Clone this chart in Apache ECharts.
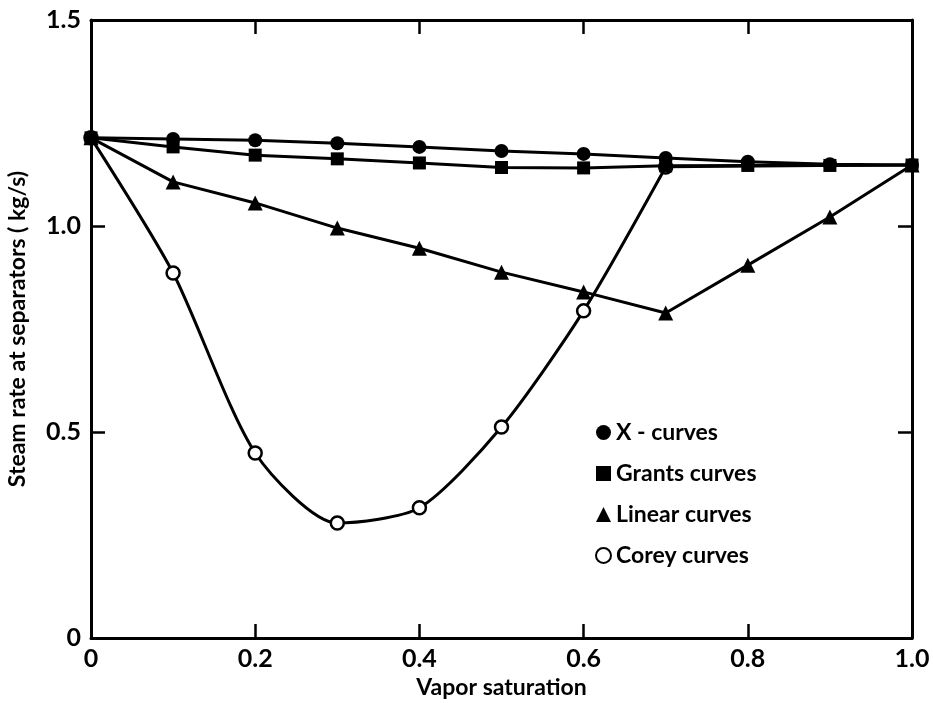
<!DOCTYPE html>
<html>
<head>
<meta charset="utf-8">
<script src="https://cdn.jsdelivr.net/npm/echarts@6/dist/echarts.min.js"></script>
<style>
  html, body { margin: 0; padding: 0; background: #fff; }
  #chart { width: 933px; height: 703px; }
</style>
</head>
<body>
<div id="chart"></div>
<script>
// vapor saturation
const satX = [0, 0.1, 0.2, 0.3, 0.4, 0.5, 0.6, 0.7, 0.8, 0.9, 1.0]
// steam rate (kg/s)
const xCurves = [1.214, 1.211, 1.208, 1.201, 1.192, 1.182, 1.175, 1.165, 1.156, 1.150, 1.148]
const grantsCurves = [1.214, 1.192, 1.172, 1.163, 1.153, 1.142, 1.141, 1.146, 1.147, 1.147, 1.148]
const linearCurves = [1.214, 1.107, 1.056, 0.995, 0.946, 0.888, 0.840, 0.789, 0.905, 1.022, 1.148]
const coreyX = [0, 0.1, 0.2, 0.3, 0.4, 0.5, 0.6, 0.7]
const coreyCurves = [1.214, 0.886, 0.449, 0.279, 0.316, 0.512, 0.794, 1.143]
const coreyTailX = [0.7, 1.0]
const coreyTail = [1.143, 1.148]

const xTicks = [0, 0.2, 0.4, 0.6, 0.8, 1.0]
const yTicks = [0, 0.5, 1.0, 1.5]

const pair = (xs, ys) => xs.map((x, i) => [x, ys[i]])
const font = 'Lato, "DejaVu Sans", sans-serif'

const chart = echarts.init(document.getElementById('chart'))

const axisLine = { show: true, onZero: false, lineStyle: { color: '#000', width: 3 } }
const axisTick = { show: true, inside: true, length: 14, lineStyle: { color: '#000', width: 2.5 } }

chart.setOption({
  backgroundColor: '#fff',
  animation: false,
  grid: { left: 91, right: 21, top: 20, bottom: 65, containLabel: false, outerBoundsMode: 'none' },
  legend: {
    orient: 'vertical',
    left: 590,
    top: 416,
    itemGap: 18,
    itemWidth: 15,
    itemHeight: 15,
    textStyle: { fontFamily: font, fontSize: 23, color: '#000', fontWeight: 'bold' },
    data: [
      { name: 'X - curves', icon: 'circle' },
      { name: 'Grants curves', icon: 'rect' },
      { name: 'Linear curves', icon: 'triangle' },
      { name: 'Corey curves', icon: 'circle' }
    ]
  },
  xAxis: [{
    type: 'value',
    min: 0, max: 1, interval: 0.2,
    name: 'Vapor saturation',
    nameLocation: 'middle',
    nameGap: 37,
    nameTextStyle: { fontFamily: font, fontSize: 23, color: '#000', fontWeight: 'bold' },
    axisLine, axisTick,
    splitLine: { show: false },
    axisLabel: {
      fontFamily: font, fontSize: 25, color: '#000', fontWeight: 'bold', margin: 8,
      formatter: v => xTicks.includes(+v.toFixed(1)) ? (v === 0 ? '0' : v.toFixed(1)) : ''
    }
  }, {
    type: 'value', position: 'top',
    min: 0, max: 1, interval: 0.2,
    axisLine, axisTick,
    splitLine: { show: false },
    axisLabel: { show: false }
  }],
  yAxis: [{
    type: 'value',
    min: 0, max: 1.5, interval: 0.5,
    name: 'Steam rate at separators ( kg/s)',
    nameLocation: 'middle',
    nameGap: 62,
    nameTextStyle: { fontFamily: font, fontSize: 23, color: '#000', fontWeight: 'bold' },
    axisLine, axisTick,
    splitLine: { show: false },
    axisLabel: {
      fontFamily: font, fontSize: 25, color: '#000', fontWeight: 'bold', margin: 10,
      formatter: v => yTicks.includes(v) ? (v === 0 ? '0' : v.toFixed(1)) : ''
    }
  }, {
    type: 'value', position: 'right',
    min: 0, max: 1.5, interval: 0.5,
    axisLine, axisTick,
    splitLine: { show: false },
    axisLabel: { show: false }
  }],
  series: [
    {
      name: 'Corey curves',
      type: 'line',
      data: pair(coreyX, coreyCurves),
      smooth: 0.25,
      symbol: 'circle', symbolSize: 13,
      lineStyle: { color: '#000', width: 3 },
      itemStyle: { color: '#fff', borderColor: '#000', borderWidth: 2.5 },
      z: 3
    },
    {
      name: 'Corey curves',
      type: 'line',
      data: pair(coreyTailX, coreyTail),
      symbol: 'none',
      lineStyle: { color: '#000', width: 2.5 },
      z: 2
    },
    {
      name: 'Linear curves',
      type: 'line',
      data: pair(satX, linearCurves),
      symbol: 'triangle', symbolSize: 15,
      lineStyle: { color: '#000', width: 3 },
      itemStyle: { color: '#000' }
    },
    {
      name: 'Grants curves',
      type: 'line',
      data: pair(satX, grantsCurves),
      symbol: 'rect', symbolSize: 13,
      lineStyle: { color: '#000', width: 3 },
      itemStyle: { color: '#000' }
    },
    {
      name: 'X - curves',
      type: 'line',
      data: pair(satX, xCurves),
      symbol: 'circle', symbolSize: 14,
      lineStyle: { color: '#000', width: 3 },
      itemStyle: { color: '#000' }
    }
  ]
})
</script>
</body>
</html>
